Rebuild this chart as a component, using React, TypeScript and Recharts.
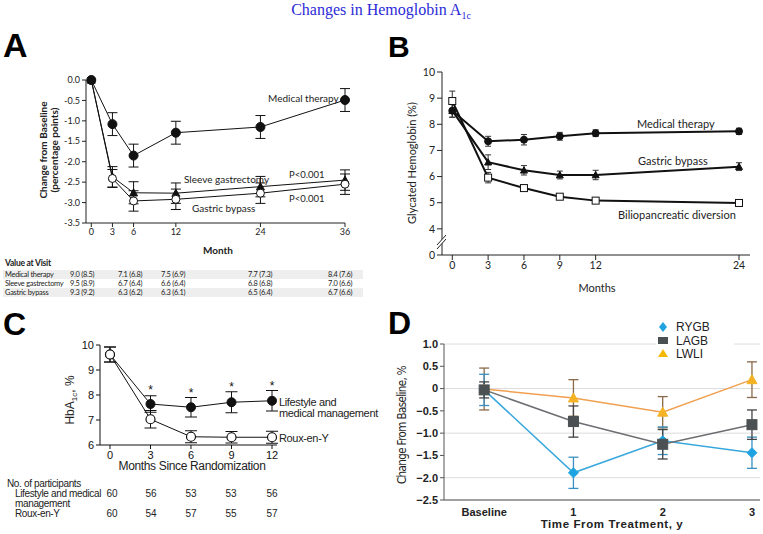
import React from 'react';
import { LineChart, Line, XAxis, YAxis, ErrorBar, CartesianGrid } from 'recharts';

// ---- Panel A: change from baseline (STAMPEDE) ----
const monthsA = [0, 3, 6, 12, 24, 36];
const medicalA = [0, -1.08, -1.85, -1.29, -1.15, -0.49];
const medicalAErr = [0, 0.28, 0.28, 0.28, 0.28, 0.28];
const sleeveA = [0, -2.37, -2.76, -2.77, -2.61, -2.45];
const sleeveAErr = [0, 0.25, 0.27, 0.25, 0.25, 0.25];
const bypassA = [0, -2.41, -2.96, -2.92, -2.77, -2.55];
const bypassAErr = [0, 0.22, 0.25, 0.25, 0.25, 0.25];
const ticksAY = [-3.5, -3, -2.5, -2, -1.5, -1, -0.5, 0];

const tableARows = ['Medical therapy', 'Sleeve gastrectomy', 'Gastric bypass'];
const tableAMedical = ['9.0 (8.5)', '7.1 (6.8)', '7.5 (6.9)', '7.7 (7.3)', '8.4 (7.6)'];
const tableASleeve = ['9.5 (8.9)', '6.7 (6.4)', '6.6 (6.4)', '6.8 (6.8)', '7.0 (6.6)'];
const tableABypass = ['9.3 (9.2)', '6.3 (6.2)', '6.3 (6.1)', '6.5 (6.4)', '6.7 (6.6)'];

// ---- Panel B: glycated hemoglobin ----
const monthsB = [0, 3, 6, 9, 12, 24];
const medicalB = [8.52, 7.35, 7.41, 7.54, 7.66, 7.73];
const medicalBErr = [0.25, 0.19, 0.2, 0.15, 0.13, 0.12];
const bypassB = [8.52, 6.55, 6.24, 6.06, 6.06, 6.38];
const bypassBErr = [0.25, 0.28, 0.18, 0.15, 0.18, 0.15];
const bpdB = [8.89, 5.96, 5.56, 5.23, 5.08, 4.99];
const bpdBErr = [0.38, 0.2, 0.08, 0.06, 0.06, 0.08];
const ticksBY = [3, 4, 5, 6, 7, 8, 9, 10];

// ---- Panel C: HbA1c ----
const monthsC = [0, 3, 6, 9, 12];
const lifestyleC = [9.62, 7.64, 7.51, 7.71, 7.77];
const lifestyleCErr = [0.3, 0.33, 0.39, 0.42, 0.41];
const rouxC = [9.62, 7.03, 6.33, 6.31, 6.31];
const rouxCErr = [0.3, 0.35, 0.24, 0.23, 0.24];
const starsC = [null, 8.24, 8.13, 8.36, 8.4];
const nLifestyle = [60, 56, 53, 53, 56];
const nRoux = [60, 54, 57, 55, 57];

// ---- Panel D: change from baseline by year ----
const yearsD = [0, 1, 2, 3];
const yearLabelsD = ['Baseline', '1', '2', '3'];
const rygbD = [-0.03, -1.89, -1.17, -1.44];
const rygbDErr = [0.35, 0.35, 0.31, 0.35];
const lagbD = [-0.03, -0.74, -1.25, -0.81];
const lagbDErr = [0.18, 0.35, 0.33, 0.33];
const lwliD = [-0.01, -0.21, -0.53, 0.2];
const lwliDErr = [0.47, 0.41, 0.35, 0.4];
const ticksDY = [-2.5, -2, -1.5, -1, -0.5, 0, 0.5, 1];

const dataA = monthsA.map((m, i) => ({
  m, med: medicalA[i], medErr: medicalAErr[i], sleeve: sleeveA[i], sleeveErr: sleeveAErr[i],
  bypass: bypassA[i], bypassErr: bypassAErr[i],
}));
const dataB = monthsB.map((m, i) => ({
  m, med: medicalB[i], medErr: medicalBErr[i], bypass: bypassB[i], bypassErr: bypassBErr[i],
  bpd: bpdB[i], bpdErr: bpdBErr[i],
}));
const dataC = monthsC.map((m, i) => ({
  m, life: lifestyleC[i], lifeErr: lifestyleCErr[i], roux: rouxC[i], rouxErr: rouxCErr[i], star: starsC[i],
}));
const dataD = yearsD.map((y, i) => ({
  y, rygb: rygbD[i], rygbErr: rygbDErr[i], lagb: lagbD[i], lagbErr: lagbDErr[i], lwli: lwliD[i], lwliErr: lwliDErr[i],
}));

type Shape = 'circle' | 'triangle' | 'square' | 'diamond';
const makeDot = (shape: Shape, r: number, fill: string, stroke: string, sw = 1) => (p: any) => {
  const { cx, cy, index } = p;
  if (cx == null || cy == null || Number.isNaN(cy)) return <g key={index} />;
  if (shape === 'circle') return <circle key={index} cx={cx} cy={cy} r={r} fill={fill} stroke={stroke} strokeWidth={sw} />;
  if (shape === 'square')
    return <rect key={index} x={cx - r} y={cy - r} width={r * 2} height={r * 2} fill={fill} stroke={stroke} strokeWidth={sw} />;
  if (shape === 'diamond')
    return <polygon key={index} points={`${cx},${cy - r} ${cx + r},${cy} ${cx},${cy + r} ${cx - r},${cy}`} fill={fill} stroke={stroke} strokeWidth={sw} />;
  return (
    <polygon key={index} points={`${cx},${cy - r} ${cx + r},${cy + r * 0.8} ${cx - r},${cy + r * 0.8}`} fill={fill} stroke={stroke} strokeWidth={sw} />
  );
};

const starDot = (p: any) => {
  const { cx, cy, index } = p;
  if (cx == null || cy == null || Number.isNaN(cy)) return <g key={index} />;
  return (
    <text key={index} x={cx} y={cy + 5} textAnchor="middle" fontSize={12} fontFamily="Liberation Sans, Arial" fill="#111">*</text>
  );
};

function T({ x, y, a = 'start', s = 10, f = 'Lato', w = 400, c = '#222', rot, children, st }: any) {
  const tx = a === 'middle' ? '-50%' : a === 'end' ? '-100%' : '0';
  return (
    <div
      style={{
        position: 'absolute', left: x, top: y, transform: `translate(${tx}, -50%)${rot ? ` rotate(${rot}deg)` : ''}`,
        fontSize: s, fontFamily: f, fontWeight: w, color: c, whiteSpace: 'nowrap', lineHeight: 1.1, ...st,
      }}
    >
      {children}
    </div>
  );
}

const fmtDash = (v: number) => (v === 0 ? '0' : v.toFixed(1).replace('-', '\u2212'));

export default function App() {
  const tickA = { fontSize: 9, fill: '#222', fontFamily: 'Lato' };
  const tickB = { fontSize: 10.5, fill: '#222', fontFamily: 'Lato' };
  const tickC = { fontSize: 11, fill: '#111', fontFamily: 'Liberation Sans' };
  const tickD = { fontSize: 11, fill: '#222', fontFamily: 'Liberation Sans', fontWeight: 700 };
  const tableCols = [70, 118, 161, 248, 328];
  const tableAVals = [tableAMedical, tableASleeve, tableABypass];
  const colsC = [112, 151, 191, 231, 272];
  const tableFont = { letterSpacing: -0.25, lineHeight: 0.9 };
  const cFont = { letterSpacing: -0.35 };
  const rowY = (r: number) => 274.5 + r * 9;

  return (
    <div style={{ position: 'absolute', left: 0, top: 0, width: 763, height: 534, background: '#fff', overflow: 'hidden' }}>
      <T x={381} y={11} a="middle" s={16} f="Liberation Serif" c="#2b2bd6">
        Changes in Hemoglobin A<sub style={{ fontSize: 10 }}>1c</sub>
      </T>

      {/* ---------- A ---------- */}
      <T x={3} y={46} s={34} f="Liberation Sans" w={700} c="#000">A</T>
      <div style={{ position: 'absolute', left: 0, top: 40 }}>
        <LineChart width={380} height={220} data={dataA} margin={{ top: 40, right: 35, bottom: 15, left: 30 }}>
          <XAxis dataKey="m" type="number" domain={[-0.75, 36]} ticks={monthsA} height={22} tick={tickA} tickSize={4} stroke="#222" />
          <YAxis type="number" domain={[-3.5, 0]} ticks={ticksAY} width={56} tick={tickA} tickSize={4} stroke="#222" tickFormatter={(v: number) => v.toFixed(1)} />
          <Line dataKey="sleeve" stroke="#111" strokeWidth={1} dot={makeDot('triangle', 4, '#111', '#111')} isAnimationActive={false}>
            <ErrorBar dataKey="sleeveErr" width={5} stroke="#111" strokeWidth={1} />
          </Line>
          <Line dataKey="bypass" stroke="#111" strokeWidth={1} dot={makeDot('circle', 4, '#fff', '#111')} isAnimationActive={false}>
            <ErrorBar dataKey="bypassErr" width={5} stroke="#111" strokeWidth={1} />
          </Line>
          <Line dataKey="med" stroke="#111" strokeWidth={1} dot={makeDot('circle', 4.5, '#111', '#111')} isAnimationActive={false}>
            <ErrorBar dataKey="medErr" width={5} stroke="#111" strokeWidth={1} />
          </Line>
        </LineChart>
      </div>
      <T x={268} y={98} s={10}>Medical therapy</T>
      <T x={184} y={179} s={10}>Sleeve gastrectomy</T>
      <T x={289} y={175} s={9.5}>P&lt;0.001</T>
      <T x={289} y={199} s={9.5}>P&lt;0.001</T>
      <T x={192} y={208} s={10}>Gastric bypass</T>
      <T x={218} y={250} a="middle" s={10} w={700}>Month</T>
      <T x={48} y={150} a="middle" s={10} w={700} rot={-90} st={{ textAlign: 'center', lineHeight: 1.05 }}>
        Change from Baseline<br />(percentage points)
      </T>

      <T x={5} y={264} s={8.5} w={700} st={tableFont}>Value at Visit</T>
      <div style={{ position: 'absolute', left: 3, top: rowY(0) - 4.5, width: 360, height: 9, background: '#eeeeee' }} />
      <div style={{ position: 'absolute', left: 3, top: rowY(2) - 4.5, width: 360, height: 9, background: '#eeeeee' }} />
      {tableARows.map((label, r) => (
        <React.Fragment key={label}>
          <T x={5} y={rowY(r)} s={7.4} st={tableFont}>{label}</T>
          {tableAVals[r].map((v, c) => (
            <T key={c} x={tableCols[c]} y={rowY(r)} s={7.4} st={tableFont}>{v}</T>
          ))}
        </React.Fragment>
      ))}

      {/* ---------- B ---------- */}
      <T x={388} y={46} s={30} f="Liberation Sans" w={700} c="#000">B</T>
      <div style={{ position: 'absolute', left: 380, top: 40 }}>
        <LineChart width={383} height={260} data={dataB} margin={{ top: 32, right: 13, bottom: 15, left: 22 }}>
          <XAxis dataKey="m" type="number" domain={[-0.86, 24.92]} ticks={monthsB} height={30} tick={tickB} tickSize={5} stroke="#222" />
          <YAxis type="number" domain={[3, 10]} ticks={ticksBY} width={40} tick={tickB} tickSize={5} stroke="#222" tickFormatter={(v: number) => (v === 3 ? '0' : String(v))} />
          <Line dataKey="bpd" stroke="#111" strokeWidth={2} dot={makeDot('square', 3.5, '#fff', '#111')} isAnimationActive={false}>
            <ErrorBar dataKey="bpdErr" width={3} stroke="#333" strokeWidth={1} />
          </Line>
          <Line dataKey="bypass" stroke="#111" strokeWidth={2} dot={makeDot('triangle', 3.5, '#111', '#111')} isAnimationActive={false}>
            <ErrorBar dataKey="bypassErr" width={3} stroke="#333" strokeWidth={1} />
          </Line>
          <Line dataKey="med" stroke="#111" strokeWidth={2} dot={makeDot('circle', 3.5, '#111', '#111')} isAnimationActive={false}>
            <ErrorBar dataKey="medErr" width={3} stroke="#333" strokeWidth={1} />
          </Line>
        </LineChart>
      </div>
      <svg style={{ position: 'absolute', left: 430, top: 232 }} width={24} height={22}>
        <polygon points="7,17 16,7 16,3 7,13" fill="#fff" />
        <line x1={7} y1={17} x2={16} y2={7} stroke="#222" strokeWidth={1} />
        <line x1={7} y1={13} x2={16} y2={3} stroke="#222" strokeWidth={1} />
      </svg>
      <T x={637} y={124} s={11}>Medical therapy</T>
      <T x={638} y={161} s={11}>Gastric bypass</T>
      <T x={618} y={215} s={11}>Biliopancreatic diversion</T>
      <T x={597} y={288} a="middle" s={11}>Months</T>
      <T x={412} y={163} a="middle" s={11} rot={-90}>Glycated Hemoglobin (%)</T>

      {/* ---------- C ---------- */}
      <T x={3} y={325} s={32} f="Liberation Sans" w={700} c="#000">C</T>
      <div style={{ position: 'absolute', left: 0, top: 320 }}>
        <LineChart width={380} height={150} data={dataC} margin={{ top: 25, right: 103, bottom: 3, left: 60 }}>
          <XAxis dataKey="m" type="number" domain={[-0.74, 12.37]} ticks={monthsC} height={22} tick={tickC} tickSize={4} stroke="#111" />
          <YAxis type="number" domain={[6, 10]} ticks={[6, 7, 8, 9, 10]} width={40} tick={tickC} tickSize={4} stroke="#111" />
          <Line dataKey="life" stroke="#111" strokeWidth={1} dot={makeDot('circle', 4.5, '#111', '#111')} isAnimationActive={false}>
            <ErrorBar dataKey="lifeErr" width={6} stroke="#111" strokeWidth={1} />
          </Line>
          <Line dataKey="roux" stroke="#111" strokeWidth={1} dot={makeDot('circle', 4.5, '#fff', '#111', 1.2)} isAnimationActive={false}>
            <ErrorBar dataKey="rouxErr" width={6} stroke="#111" strokeWidth={1} />
          </Line>
          <Line dataKey="star" stroke="none" dot={starDot} isAnimationActive={false} />
        </LineChart>
      </div>
      <T x={279} y={402} s={11} f="Liberation Sans" st={cFont}>Lifestyle and</T>
      <T x={279} y={413} s={11} f="Liberation Sans" st={cFont}>medical management</T>
      <T x={279} y={438} s={11} f="Liberation Sans" st={cFont}>Roux-en-Y</T>
      <T x={192} y={467} a="middle" s={12} f="Liberation Sans" st={cFont}>Months Since Randomization</T>
      <T x={72} y={400} a="middle" s={12} f="Liberation Sans" rot={-90}>
        HbA<sub style={{ fontSize: 8 }}>1c</sub>, %
      </T>
      <T x={7} y={483} s={10} f="Liberation Sans" st={cFont}>No. of participants</T>
      <T x={15} y={493} s={10} f="Liberation Sans" st={cFont}>Lifestyle and medical</T>
      <T x={15} y={503} s={10} f="Liberation Sans" st={cFont}>management</T>
      <T x={15} y={513} s={10} f="Liberation Sans" st={cFont}>Roux-en-Y</T>
      {nLifestyle.map((n, i) => (
        <T key={'l' + i} x={colsC[i]} y={493} a="middle" s={10} f="Liberation Sans">{n}</T>
      ))}
      {nRoux.map((n, i) => (
        <T key={'r' + i} x={colsC[i]} y={513} a="middle" s={10} f="Liberation Sans">{n}</T>
      ))}

      {/* ---------- D ---------- */}
      <T x={388} y={324} s={32} f="Liberation Sans" w={700} c="#000">D</T>
      <div style={{ position: 'absolute', left: 380, top: 320 }}>
        <LineChart width={383} height={214} data={dataD} margin={{ top: 24, right: 3, bottom: 14, left: 20 }}>
          <CartesianGrid vertical={false} stroke="#dcdcdc" />
          <XAxis dataKey="y" type="number" domain={[-0.45, 3.09]} ticks={yearsD} height={20} tick={tickD} tickLine={false} stroke="#555" tickFormatter={(v: number) => yearLabelsD[v]} />
          <YAxis type="number" domain={[-2.5, 1]} ticks={ticksDY} width={44} tick={tickD} tickSize={4} stroke="#555" tickFormatter={fmtDash} />
          <Line dataKey="lwli" stroke="#f0a050" strokeWidth={1.5} dot={makeDot('triangle', 5, '#f5b324', '#f5b324')} isAnimationActive={false}>
            <ErrorBar dataKey="lwliErr" width={5} stroke="#8a6a4a" strokeWidth={1.3} />
          </Line>
          <Line dataKey="rygb" stroke="#3aa8dc" strokeWidth={1.5} dot={makeDot('diamond', 5, '#1fa3e0', '#1fa3e0')} isAnimationActive={false}>
            <ErrorBar dataKey="rygbErr" width={5} stroke="#3a90c0" strokeWidth={1.3} />
          </Line>
          <Line dataKey="lagb" stroke="#6b6d70" strokeWidth={1.5} dot={makeDot('square', 5, '#4b5053', '#4b5053')} isAnimationActive={false}>
            <ErrorBar dataKey="lagbErr" width={5} stroke="#444" strokeWidth={1.3} />
          </Line>
        </LineChart>
      </div>
      <div style={{ position: 'absolute', left: 656, top: 319, width: 78, height: 44, background: '#fff' }} />
      <svg style={{ position: 'absolute', left: 656, top: 319 }} width={20} height={44}>
        <polygon points="7,3 11,8 7,13 3,8" fill="#1fa3e0" />
        <rect x={2} y={18} width={10} height={7} fill="#4b5053" />
        <polygon points="7,30 12,38 2,38" fill="#f5b800" />
      </svg>
      <T x={676} y={328} s={12} f="Liberation Sans">RYGB</T>
      <T x={676} y={342} s={12} f="Liberation Sans">LAGB</T>
      <T x={676} y={355} s={12} f="Liberation Sans">LWLI</T>
      <T x={612} y={524} a="middle" s={11.5} f="Liberation Sans" w={700} st={{ letterSpacing: 0.6 }}>Time From Treatment, y</T>
      <T x={402} y={425} a="middle" s={11.5} f="DejaVu Sans" rot={-90} st={{ fontStretch: 'condensed', letterSpacing: -0.6 }}>
        Change From Baseline, %
      </T>
    </div>
  );
}
